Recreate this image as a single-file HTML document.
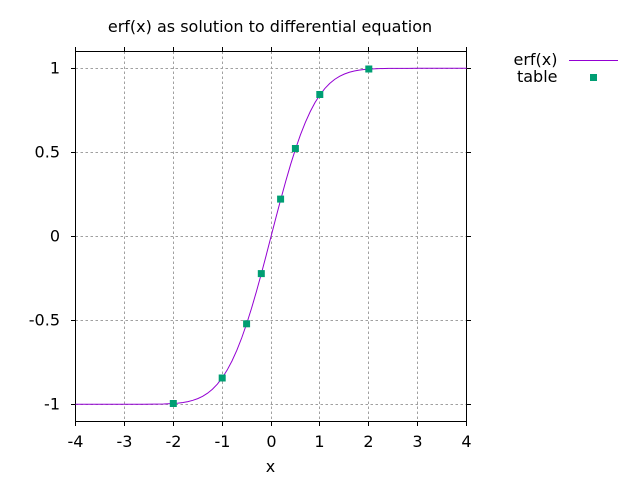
<!DOCTYPE html>
<html><head><meta charset="utf-8"><style>
html,body{margin:0;padding:0;background:#fff;}
svg{display:block;}
text{font-family:"DejaVu Sans","Liberation Sans",sans-serif;font-size:16px;fill:#000;}
</style></head><body>
<svg width="640" height="480" viewBox="0 0 640 480" xmlns="http://www.w3.org/2000/svg">
<rect x="0" y="0" width="640" height="480" fill="#fff"/>
<!-- grid -->
<g stroke="#a0a0a0" stroke-width="1" stroke-dasharray="2.5,2.5" fill="none">
<line x1="124.5" y1="51.5" x2="124.5" y2="421.5"/>
<line x1="173.5" y1="51.5" x2="173.5" y2="421.5"/>
<line x1="222.5" y1="51.5" x2="222.5" y2="421.5"/>
<line x1="271.5" y1="51.5" x2="271.5" y2="421.5"/>
<line x1="319.5" y1="51.5" x2="319.5" y2="421.5"/>
<line x1="368.5" y1="51.5" x2="368.5" y2="421.5"/>
<line x1="417.5" y1="51.5" x2="417.5" y2="421.5"/>
<line x1="75.5" y1="68.5" x2="466.5" y2="68.5"/>
<line x1="75.5" y1="152.5" x2="466.5" y2="152.5"/>
<line x1="75.5" y1="236.5" x2="466.5" y2="236.5"/>
<line x1="75.5" y1="320.5" x2="466.5" y2="320.5"/>
<line x1="75.5" y1="404.5" x2="466.5" y2="404.5"/>
</g>
<!-- ticks (outward) -->
<g stroke="#000" stroke-width="1">
<line x1="75.5" y1="421.5" x2="75.5" y2="426"/>
<line x1="124.5" y1="421.5" x2="124.5" y2="426"/>
<line x1="173.5" y1="421.5" x2="173.5" y2="426"/>
<line x1="222.5" y1="421.5" x2="222.5" y2="426"/>
<line x1="271.5" y1="421.5" x2="271.5" y2="426"/>
<line x1="319.5" y1="421.5" x2="319.5" y2="426"/>
<line x1="368.5" y1="421.5" x2="368.5" y2="426"/>
<line x1="417.5" y1="421.5" x2="417.5" y2="426"/>
<line x1="466.5" y1="421.5" x2="466.5" y2="426"/>
<line x1="75.5" y1="51.5" x2="75.5" y2="47"/>
<line x1="124.5" y1="51.5" x2="124.5" y2="47"/>
<line x1="173.5" y1="51.5" x2="173.5" y2="47"/>
<line x1="222.5" y1="51.5" x2="222.5" y2="47"/>
<line x1="271.5" y1="51.5" x2="271.5" y2="47"/>
<line x1="319.5" y1="51.5" x2="319.5" y2="47"/>
<line x1="368.5" y1="51.5" x2="368.5" y2="47"/>
<line x1="417.5" y1="51.5" x2="417.5" y2="47"/>
<line x1="466.5" y1="51.5" x2="466.5" y2="47"/>
<line x1="75.5" y1="68.5" x2="71" y2="68.5"/>
<line x1="75.5" y1="152.5" x2="71" y2="152.5"/>
<line x1="75.5" y1="236.5" x2="71" y2="236.5"/>
<line x1="75.5" y1="320.5" x2="71" y2="320.5"/>
<line x1="75.5" y1="404.5" x2="71" y2="404.5"/>
<line x1="466.5" y1="68.5" x2="471" y2="68.5"/>
<line x1="466.5" y1="152.5" x2="471" y2="152.5"/>
<line x1="466.5" y1="236.5" x2="471" y2="236.5"/>
<line x1="466.5" y1="320.5" x2="471" y2="320.5"/>
<line x1="466.5" y1="404.5" x2="471" y2="404.5"/>
</g>
<!-- border -->
<rect x="75.5" y="51.5" width="391" height="370" fill="none" stroke="#000" stroke-width="1"/>
<!-- curve -->
<g transform="translate(271.1,236.3) scale(48.9,-168)">
<polyline fill="none" stroke="#9400d3" stroke-width="1" vector-effect="non-scaling-stroke"
points="-4,-1 -3,-1 -2.8,-0.99992 -2.6,-0.99976 -2.4,-0.99931 -2.2,-0.99814 -2,-0.99532 -1.9,-0.99279 -1.8,-0.98909 -1.7,-0.98379 -1.6,-0.97635 -1.5,-0.96611 -1.4,-0.95229 -1.3,-0.93401 -1.2,-0.91031 -1.1,-0.88021 -1,-0.84270 -0.9,-0.79691 -0.8,-0.74210 -0.7,-0.67780 -0.6,-0.60386 -0.5,-0.52050 -0.4,-0.42839 -0.3,-0.32863 -0.2,-0.22270 -0.1,-0.11246 0,0 0.1,0.11246 0.2,0.22270 0.3,0.32863 0.4,0.42839 0.5,0.52050 0.6,0.60386 0.7,0.67780 0.8,0.74210 0.9,0.79691 1,0.84270 1.1,0.88021 1.2,0.91031 1.3,0.93401 1.4,0.95229 1.5,0.96611 1.6,0.97635 1.7,0.98379 1.8,0.98909 1.9,0.99279 2,0.99532 2.2,0.99814 2.4,0.99931 2.6,0.99976 2.8,0.99992 3,1 4,1"/>
</g>
<!-- points -->
<g fill="#009e73">
<rect x="169.8" y="400" width="7" height="7"/>
<rect x="218.7" y="374.5" width="7" height="7"/>
<rect x="243.1" y="320.3" width="7" height="7"/>
<rect x="257.8" y="270.1" width="7" height="7"/>
<rect x="277.1" y="195.6" width="7" height="7"/>
<rect x="291.9" y="145" width="7" height="7"/>
<rect x="316.3" y="91" width="7" height="7"/>
<rect x="365.3" y="65.5" width="7" height="7"/>
</g>
<!-- y tick labels -->
<g text-anchor="end">
<text x="60" y="73.5">1</text>
<text x="60" y="157.5">0.5</text>
<text x="60" y="241.5">0</text>
<text x="60" y="325.5">-0.5</text>
<text x="60" y="409.5">-1</text>
</g>
<!-- x tick labels -->
<g text-anchor="middle">
<text x="75.5" y="447">-4</text>
<text x="124.5" y="447">-3</text>
<text x="173.5" y="447">-2</text>
<text x="222.5" y="447">-1</text>
<text x="271.5" y="447">0</text>
<text x="319.5" y="447">1</text>
<text x="368.5" y="447">2</text>
<text x="417.5" y="447">3</text>
<text x="466.5" y="447">4</text>
</g>
<text x="270.5" y="472" text-anchor="middle">x</text>
<text x="270" y="32" text-anchor="middle">erf(x) as solution to differential equation</text>
<!-- legend -->
<text x="557.5" y="65" text-anchor="end">erf(x)</text>
<line x1="569" y1="60.5" x2="618" y2="60.5" stroke="#9400d3" stroke-width="1"/>
<text x="557.5" y="82" text-anchor="end">table</text>
<rect x="590" y="74" width="7" height="7" fill="#009e73"/>
</svg>
</body></html>
